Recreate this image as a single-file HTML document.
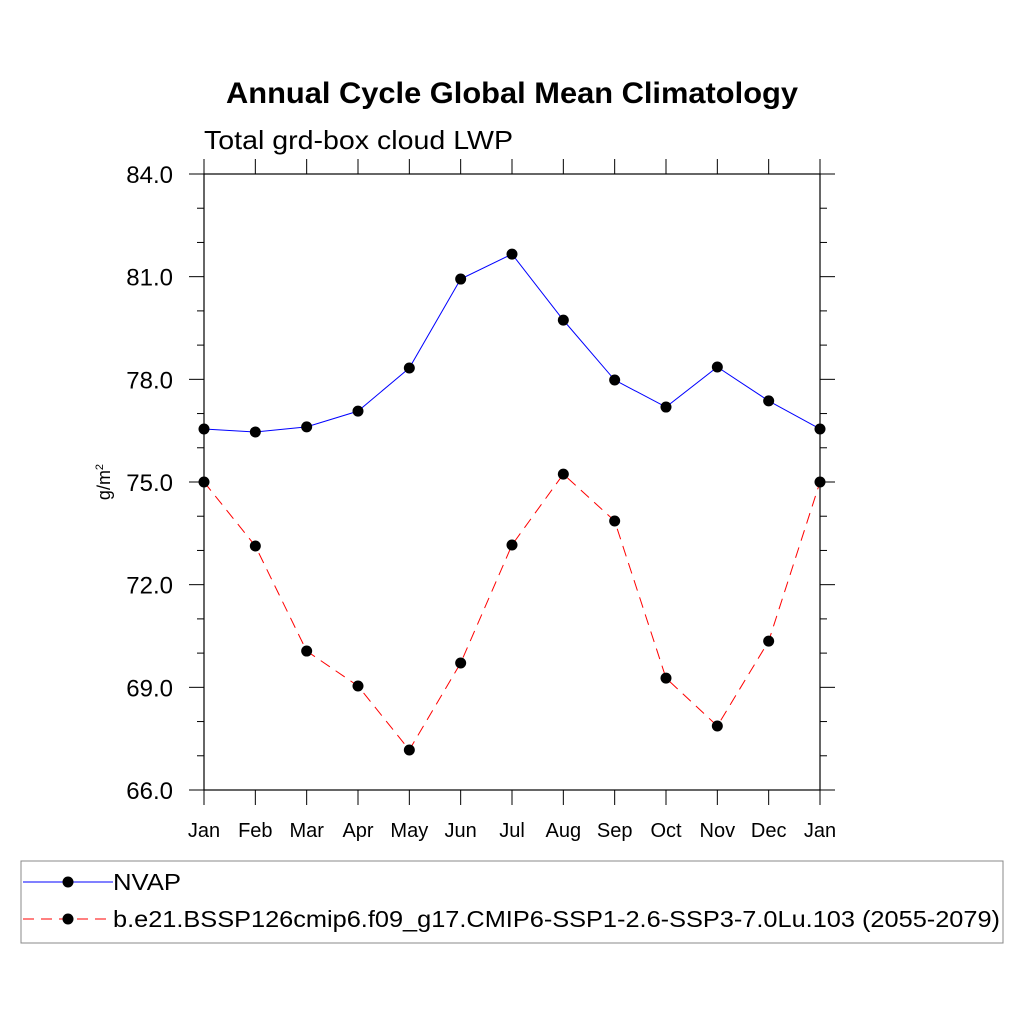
<!DOCTYPE html>
<html><head><meta charset="utf-8"><style>body{margin:0;background:#fff}svg{display:block;font-family:"Liberation Sans",sans-serif}</style></head>
<body>
<svg width="1024" height="1024">
<text x="226" y="103" textLength="572" lengthAdjust="spacingAndGlyphs" font-size="30" font-weight="bold">Annual Cycle Global Mean Climatology</text>
<text x="204" y="149" textLength="309" lengthAdjust="spacingAndGlyphs" font-size="26">Total grd-box cloud LWP</text>
<text transform="translate(110,482) rotate(-90)" text-anchor="middle" font-size="18">g/m<tspan dy="-7" font-size="11">2</tspan></text>
<g id="axes"></g>
<g id="series"></g>
<rect x="21" y="861" width="982" height="82" fill="none" stroke="#888"/>
<g>
<line x1="23" y1="882" x2="113" y2="882" stroke="blue" stroke-width="1"/><circle cx="68" cy="882" r="5.5"/>
<text x="113" y="890" textLength="68" lengthAdjust="spacingAndGlyphs" font-size="23">NVAP</text></g>
<g>
<line x1="23" y1="919" x2="113" y2="919" stroke="red" stroke-width="1" stroke-dasharray="11,7"/><circle cx="68" cy="919" r="5.5"/>
<text x="113" y="927" textLength="887" lengthAdjust="spacingAndGlyphs" font-size="23">b.e21.BSSP126cmip6.f09_g17.CMIP6-SSP1-2.6-SSP3-7.0Lu.103 (2055-2079)</text></g>
</svg>
<script>
const months=["Jan","Feb","Mar","Apr","May","Jun","Jul","Aug","Sep","Oct","Nov","Dec","Jan"];
const nvap=[76.55,76.46,76.61,77.07,78.33,80.93,81.66,79.73,77.98,77.19,78.36,77.37,76.55];
const model=[75.0,73.13,70.06,69.04,67.17,69.71,73.16,75.23,73.86,69.27,67.87,70.35,75.0];
const yTicks=[66,69,72,75,78,81,84];
const NS="http://www.w3.org/2000/svg";
const X0=204,X1=820,Y0=174,Y1=790,YMIN=66,YMAX=84;
const xs=i=>X0+(X1-X0)*i/(months.length-1);
const ys=v=>Y1-(v-YMIN)/(YMAX-YMIN)*(Y1-Y0);
function mk(tag,at,parent){const e=document.createElementNS(NS,tag);for(const k in at)e.setAttribute(k,at[k]);parent.appendChild(e);return e;}
const ax=document.getElementById('axes');
const frame=mk('rect',{x:X0,y:Y0,width:X1-X0,height:Y1-Y0,fill:'none',stroke:'#000','stroke-width':1.2},ax);


for(let v=YMIN;v<=YMAX;v+=1){const y=ys(v);const maj=(v-YMIN)%3===0;const L=maj?15:7;
mk('line',{x1:X0-L,y1:y,x2:X0,y2:y,stroke:'#000'},ax);mk('line',{x1:X1,y1:y,x2:X1+L,y2:y,stroke:'#000'},ax);}
yTicks.forEach(v=>{const t=mk('text',{x:173,y:ys(v)+9,'text-anchor':'end','font-size':24},ax);t.textContent=v.toFixed(1);

});
months.forEach((m,i)=>{const x=xs(i);mk('line',{x1:x,y1:Y1,x2:x,y2:Y1+15,stroke:'#000'},ax);mk('line',{x1:x,y1:Y0-15,x2:x,y2:Y0,stroke:'#000'},ax);
const t=mk('text',{x:x,y:837,'text-anchor':'middle','font-size':20},ax);t.textContent=m;

});
const sg=document.getElementById('series');
function draw(vals,color,dash,name){const p=mk('polyline',{points:vals.map((v,i)=>xs(i)+','+ys(v)).join(' '),fill:'none',stroke:color,'stroke-width':1,'stroke-dasharray':dash},sg);


vals.forEach((v,i)=>{const c=mk('circle',{cx:xs(i),cy:ys(v),r:5.5,fill:'#000'},sg);

});}
draw(nvap,'blue','none','nvap');
draw(model,'red','11,7','model');
</script>
</body></html>
